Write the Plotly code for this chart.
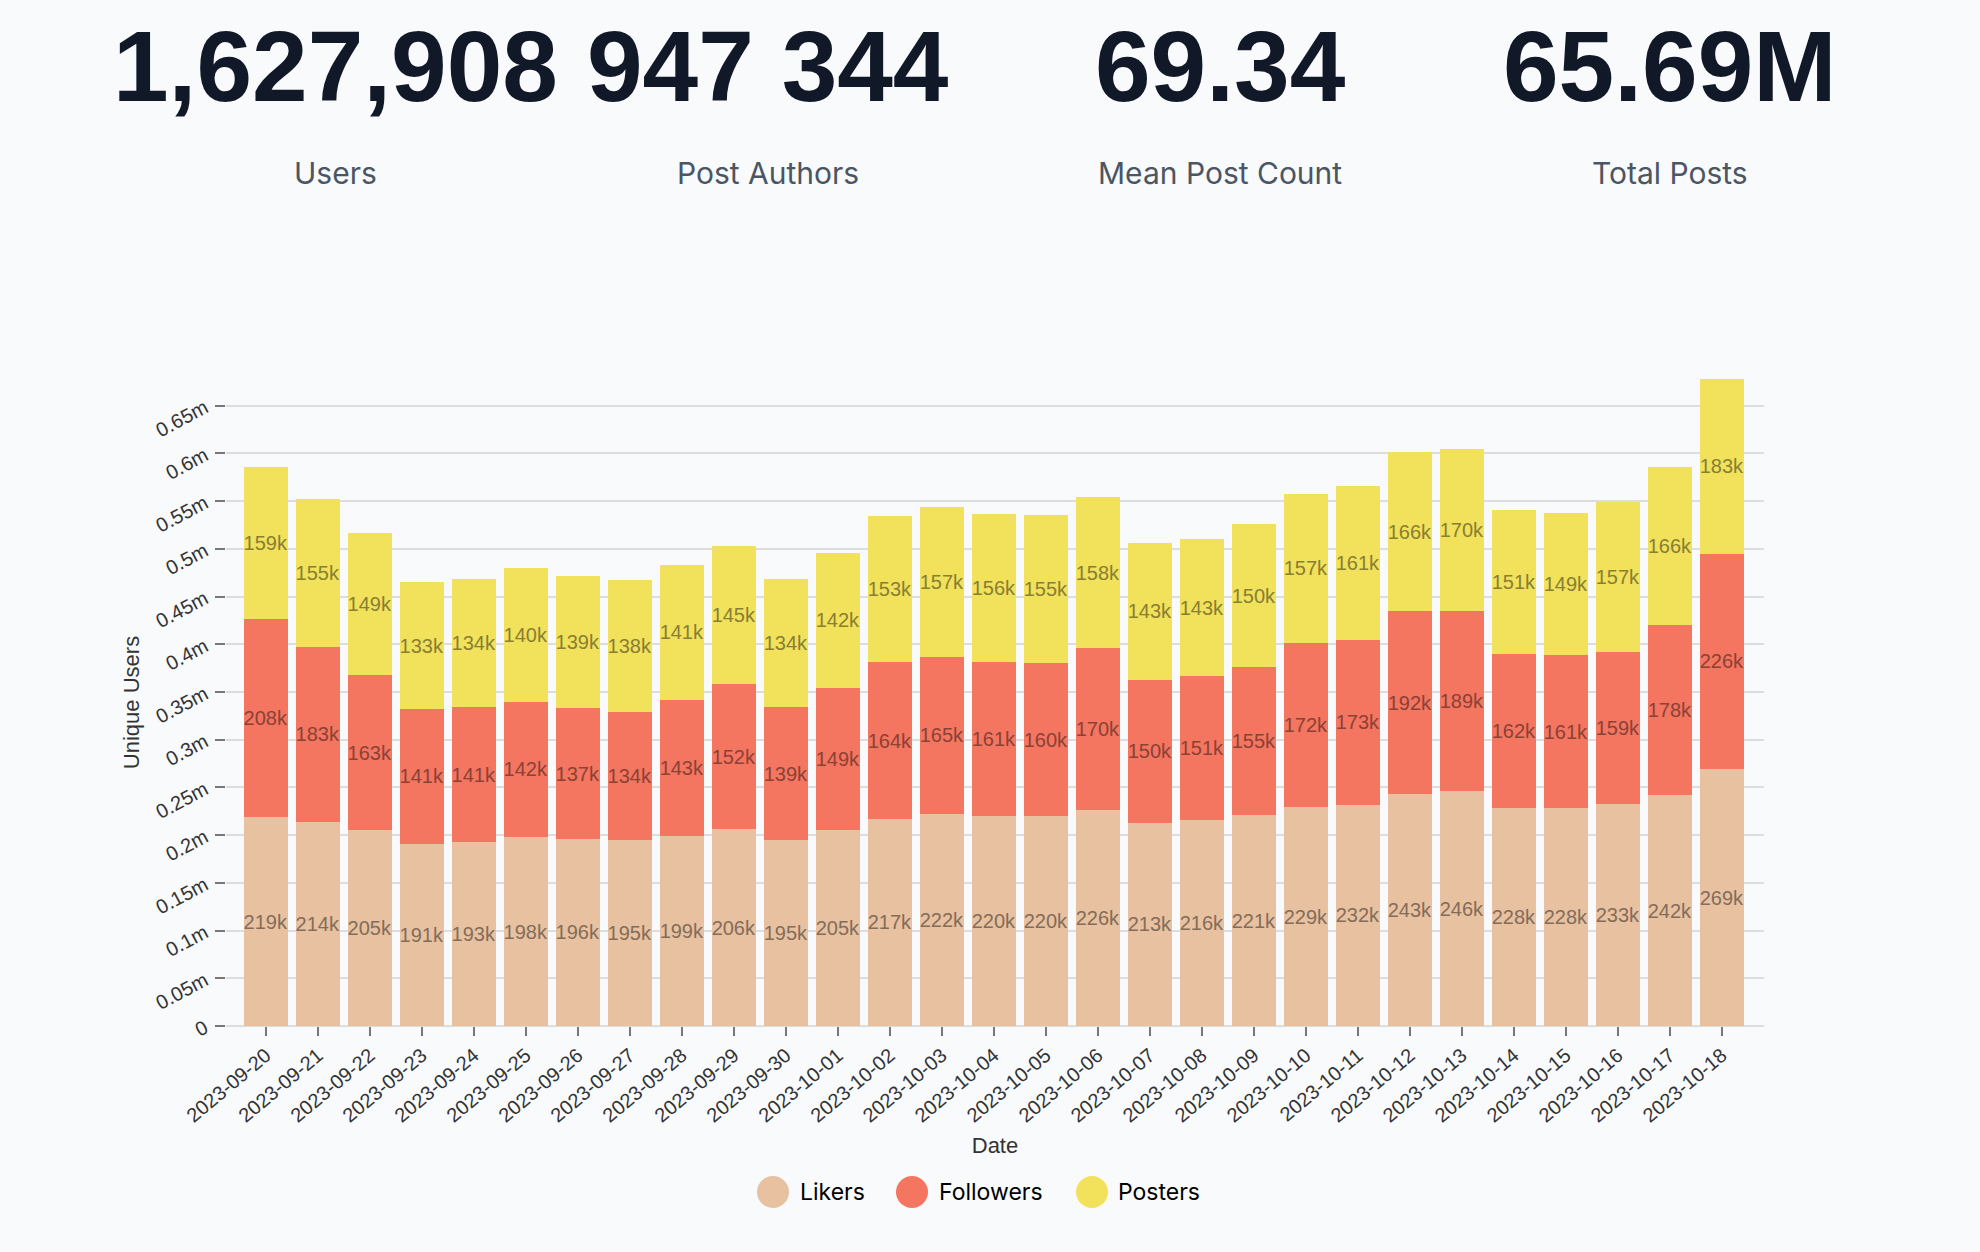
import plotly.graph_objects as go

# ---------------- data ----------------
dates = ["2023-09-20", "2023-09-21", "2023-09-22", "2023-09-23", "2023-09-24", "2023-09-25",
         "2023-09-26", "2023-09-27", "2023-09-28", "2023-09-29", "2023-09-30", "2023-10-01",
         "2023-10-02", "2023-10-03", "2023-10-04", "2023-10-05", "2023-10-06", "2023-10-07",
         "2023-10-08", "2023-10-09", "2023-10-10", "2023-10-11", "2023-10-12", "2023-10-13",
         "2023-10-14", "2023-10-15", "2023-10-16", "2023-10-17", "2023-10-18"]
likers_k = [219, 214, 205, 191, 193, 198, 196, 195, 199, 206, 195, 205, 217, 222, 220,
            220, 226, 213, 216, 221, 229, 232, 243, 246, 228, 228, 233, 242, 269]
followers_k = [208, 183, 163, 141, 141, 142, 137, 134, 143, 152, 139, 149, 164, 165, 161,
               160, 170, 150, 151, 155, 172, 173, 192, 189, 162, 161, 159, 178, 226]
posters_k = [159, 155, 149, 133, 134, 140, 139, 138, 141, 145, 134, 142, 153, 157, 156,
             155, 158, 143, 143, 150, 157, 161, 166, 170, 151, 149, 157, 166, 183]
series_names = ["Likers", "Followers", "Posters"]

ytick_vals = [0, 50000, 100000, 150000, 200000, 250000, 300000, 350000, 400000,
              450000, 500000, 550000, 600000, 650000]
ytick_text = ["0", "0.05m", "0.1m", "0.15m", "0.2m", "0.25m", "0.3m", "0.35m", "0.4m",
              "0.45m", "0.5m", "0.55m", "0.6m", "0.65m"]

stat_values = ["1,627,908", "947 344", "69.34", "65.69M"]
stat_labels = ["Users", "Post Authors", "Mean Post Count", "Total Posts"]

# ---------------- style ----------------
W, H = 1980, 1252
ML, MR, MT, MB = 226, 216, 379, 226
PW = W - ML - MR
PH = H - MT - MB
BG = "#F8FAFC"
bar_colors = ["#e8c1a0", "#f47560", "#f1e15b"]
text_colors = ["#836d5a", "#8a4236", "#887f33"]
CHART_FONT = "Liberation Sans, Arial, sans-serif"


def px_x(px):
    return (px - ML) / PW


def px_y(py):
    return (H - MB - py) / PH


fig = go.Figure()
for name, vals, col, tcol in zip(series_names, [likers_k, followers_k, posters_k],
                                  bar_colors, text_colors):
    fig.add_trace(go.Bar(
        x=dates,
        y=[v * 1000 for v in vals],
        name=name,
        marker=dict(color=col, line=dict(width=0)),
        text=[f"{v}k" for v in vals],
        textposition="inside",
        insidetextanchor="middle",
        textangle=0,
        constraintext="none",
        textfont=dict(family=CHART_FONT, size=20, color=tcol),
        showlegend=False,
        hoverinfo="skip",
    ))

annotations = []
# headline stats
stat_cx = [335, 768, 1220, 1670]
for cx, val, lab in zip(stat_cx, stat_values, stat_labels):
    annotations.append(dict(
        x=px_x(cx), y=px_y(66), xref="paper", yref="paper", text=val, showarrow=False,
        xanchor="center", yanchor="middle",
        font=dict(family="Liberation Sans, Arial, sans-serif", size=100, color="#111827", weight=700),
    ))
    annotations.append(dict(
        x=px_x(cx), y=px_y(173), xref="paper", yref="paper", text=lab, showarrow=False,
        xanchor="center", yanchor="middle",
        font=dict(family="Inter, sans-serif", size=30, color="#4b5563"),
    ))

# custom legend (circle symbols)
shapes = []
leg_cx = [773, 912, 1092]
leg_tx = [798, 937, 1116]
leg_y = 1192
for cx, tx, name, col in zip(leg_cx, leg_tx, series_names, bar_colors):
    shapes.append(dict(
        type="circle", xref="paper", yref="paper",
        xsizemode="pixel", ysizemode="pixel",
        xanchor=px_x(cx), yanchor=px_y(leg_y),
        x0=-16, x1=16, y0=-16, y1=16,
        fillcolor=col, line=dict(width=0),
    ))
    annotations.append(dict(
        x=px_x(tx), y=px_y(leg_y), xref="paper", yref="paper", text=name, showarrow=False,
        xanchor="left", yanchor="middle",
        font=dict(family="Inter, sans-serif", size=23, color="#000000"),
    ))

fig.update_layout(
    width=W, height=H,
    margin=dict(l=ML, r=MR, t=MT, b=MB, pad=0),
    paper_bgcolor=BG, plot_bgcolor=BG,
    barmode="stack", bargap=0.16,
    showlegend=False,
    annotations=annotations,
    shapes=shapes,
    font=dict(family=CHART_FONT, color="#333333"),
    xaxis=dict(
        type="category",
        range=[-0.765, 28.81],
        showgrid=False, showline=False, zeroline=False,
        ticks="outside", ticklen=9, tickwidth=1.5, tickcolor="#777777",
        tickangle=-40,
        tickfont=dict(family=CHART_FONT, size=20, color="#333333"),
        title=dict(text="Date", font=dict(family=CHART_FONT, size=22, color="#333333"), standoff=12),
    ),
    yaxis=dict(
        range=[0, 678000],
        tickmode="array", tickvals=ytick_vals, ticktext=ytick_text,
        showgrid=True, gridcolor="#dddddd", gridwidth=1.5,
        zeroline=True, zerolinecolor="#dddddd", zerolinewidth=2,
        showline=False,
        ticks="outside", ticklen=10, tickwidth=1.5, tickcolor="#777777",
        tickangle=-28, ticklabelstandoff=6,
        tickfont=dict(family=CHART_FONT, size=20, color="#333333"),
        title=dict(text="Unique Users", font=dict(family=CHART_FONT, size=22, color="#333333"), standoff=6),
    ),
)

fig.write_html("out.html")
